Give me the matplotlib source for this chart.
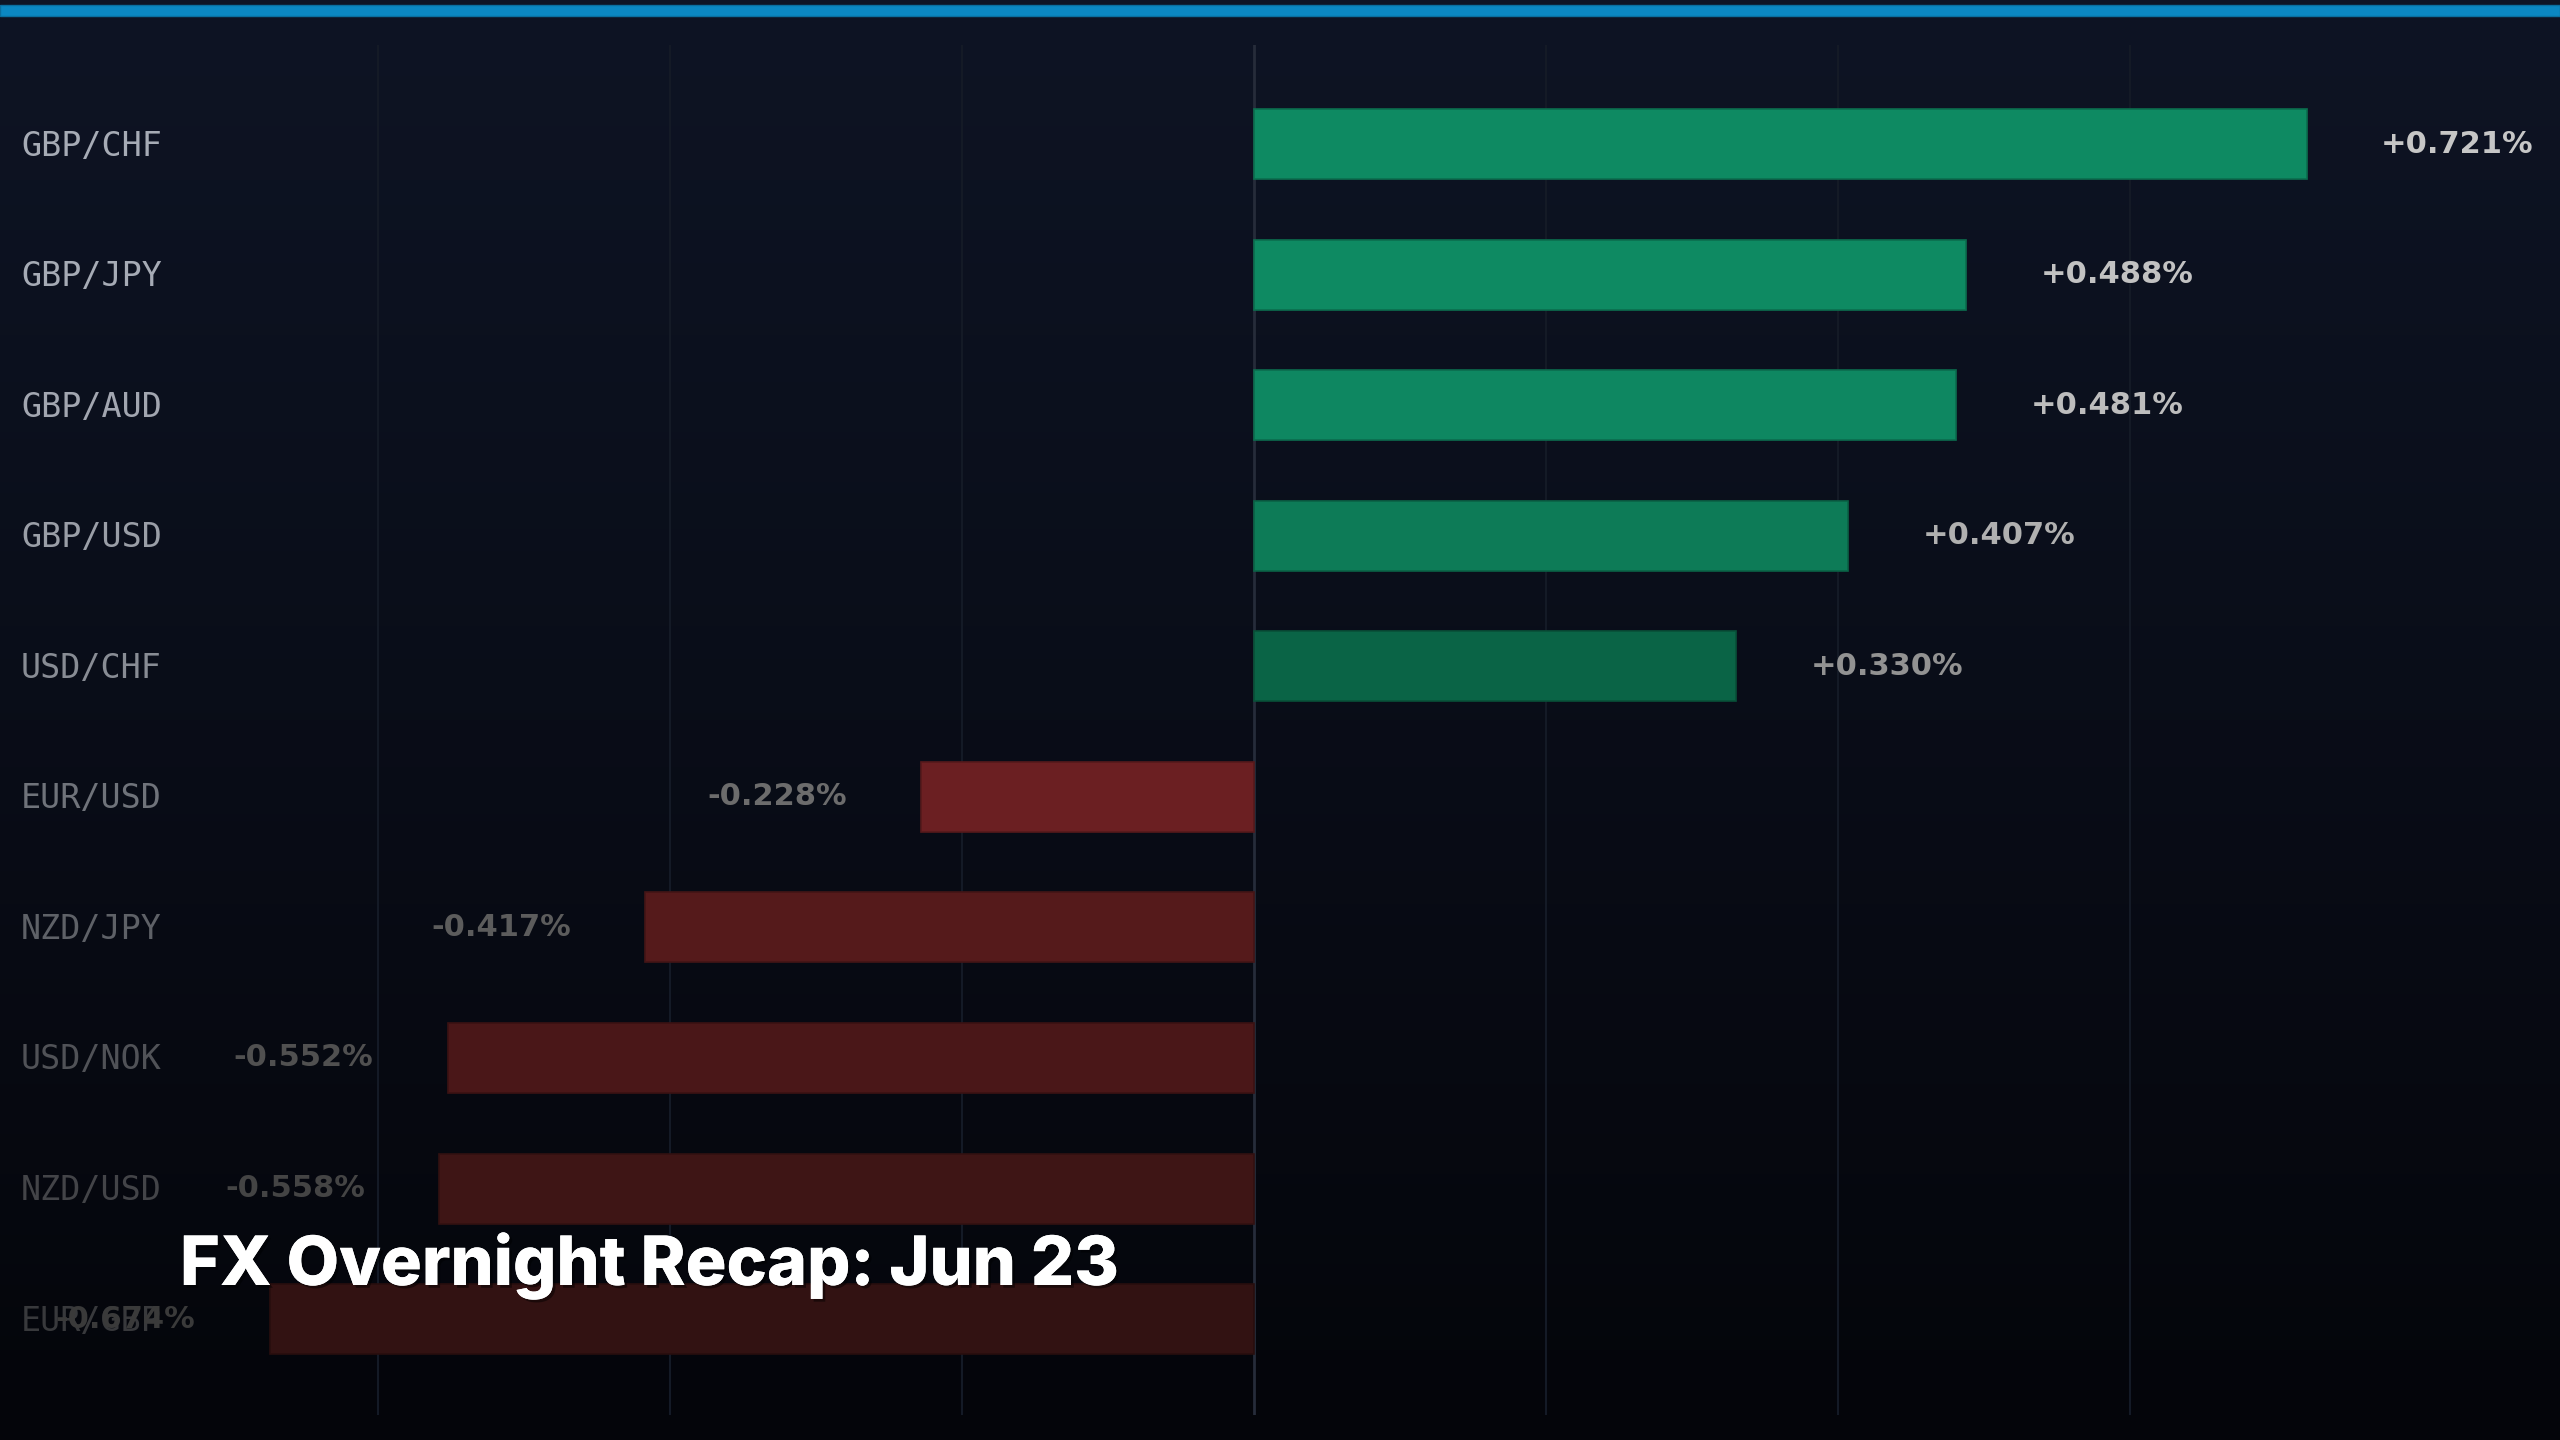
import numpy as np
import matplotlib.pyplot as plt
from matplotlib import patheffects as pe
from matplotlib.colors import to_rgb
import matplotlib.transforms as mtransforms


# datos del recap FX (variación % nocturna)
pares = ["GBP/CHF", "GBP/JPY", "GBP/AUD", "GBP/USD", "USD/CHF",
         "EUR/USD", "NZD/JPY", "USD/NOK", "NZD/USD", "EUR/GBP"]
cambios = [0.721, 0.488, 0.481, 0.407, 0.330,
           -0.228, -0.417, -0.552, -0.558, -0.674]
titulo = "FX Overnight Recap: Jun 23"

# colores por fila (se van apagando hacia abajo)
col_barras = ['#0e8a62', '#0e8a62', '#0e8761', '#0d7b57', '#0a6446',
              '#6b1f22', '#551a1b', '#4a1718', '#3e1515', '#321212']
col_pares = ['#a6abb5', '#a6abb5', '#a2a6b0', '#9a9ea7', '#888c94',
             '#6f737a', '#5e6167', '#505257', '#434448', '#38393c']
col_valores = ['#c6c6c6', '#c2c2c2', '#bdbdbd', '#b0b0b0', '#929292',
               '#6c6c6c', '#5c5c5c', '#505050', '#444444', '#3a3a3a']

W, H = 2560, 1440
fig = plt.figure(figsize=(W / 100, H / 100), dpi=100)

# fondo con degradado vertical
bg = fig.add_axes([0, 0, 1, 1], zorder=-10)
top = np.array(to_rgb('#0e1424'))
bot = np.array(to_rgb('#04050a'))
t = np.linspace(0, 1, 400)[:, None] ** 1.1
grad = top * (1 - t) + bot * t
bg.imshow(grad[:, None, :], aspect='auto', extent=[0, 1, 0, 1])
bg.axis('off')

# franja azul superior
fig.patches.append(plt.Rectangle((0, 1 - 16 / H), 1, 11 / H, transform=fig.transFigure,
                                 facecolor='#0b87c2', edgecolor='#0a6e9e', lw=1.0))

# ejes del grafico
y0, y1 = 45, 1415
ax = fig.add_axes([0, 1 - y1 / H, 1, (y1 - y0) / H])
ax.set_facecolor('none')
escala = 1460.0
ax.set_xlim(-1254 / escala, (W - 1254) / escala)
ax.set_ylim(9.735, -0.76)

y = np.arange(len(pares))
bordes = [tuple(c * 0.8 for c in to_rgb(cb)) for cb in col_barras]
ax.barh(y, cambios, height=0.536, color=col_barras, edgecolor=bordes, linewidth=1.2, zorder=3)

ax.set_xticks([-0.6, -0.4, -0.2, 0.2, 0.4, 0.6])
ax.grid(axis='x', color='#141a26', linewidth=1.5, zorder=0)
ax.axvline(0, color='#262c3a', linewidth=2, zorder=1)
ax.set_yticks([])
ax.tick_params(length=0, labelbottom=False)
for s in ax.spines.values():
    s.set_visible(False)

trans = mtransforms.blended_transform_factory(ax.transAxes, ax.transData)
for i, (p, v) in enumerate(zip(pares, cambios)):
    ax.text(21 / W, i + 0.015, p, transform=trans, ha='left', va='center',
            family='DejaVu Sans Mono', fontsize=24, color=col_pares[i], zorder=4)
    off = 0.051 if v > 0 else -0.051
    ax.text(v + off, i, f"{v:+.3f}%", ha='left' if v > 0 else 'right', va='center',
            fontsize=22, fontweight='bold', family='DejaVu Sans', color=col_valores[i], zorder=4)

# titulo
fig.text(180 / W, 1 - 1285 / H, titulo, ha='left', va='baseline',
         family=['Inter', 'DejaVu Sans'], fontweight=800, fontsize=49, color='white',
         path_effects=[pe.withSimplePatchShadow(offset=(2, -2), alpha=0.45, shadow_rgbFace='black'),
                       pe.Normal()], zorder=20)

fig.savefig('out.png', dpi=100, facecolor='#0e1424')
